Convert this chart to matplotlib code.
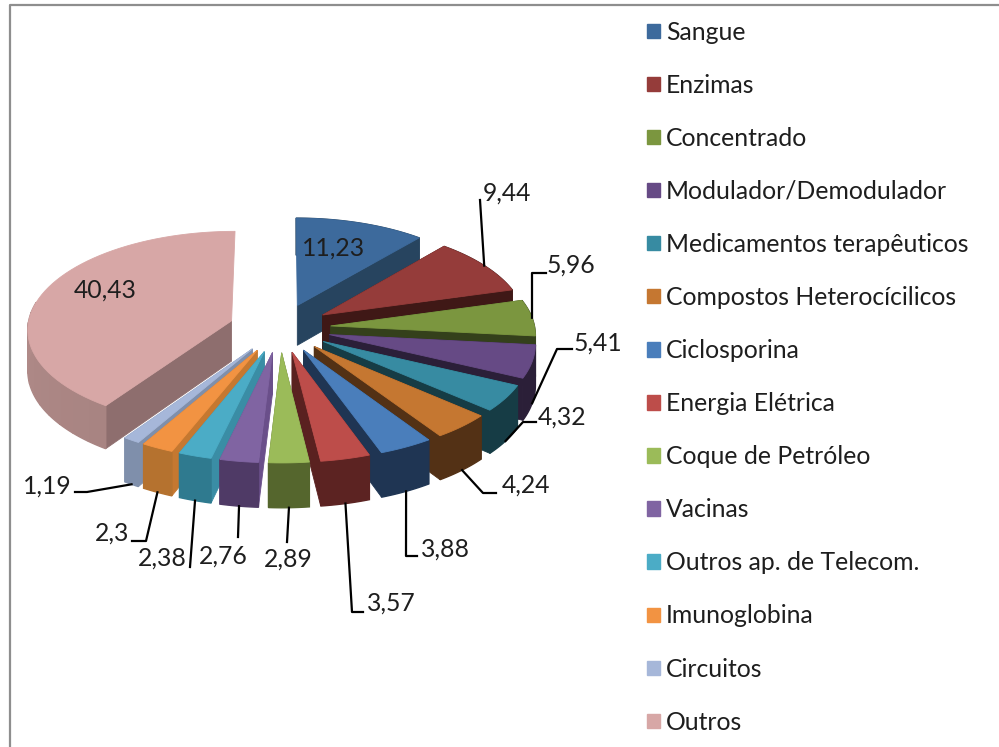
import numpy as np
import matplotlib
matplotlib.use("Agg")
import matplotlib.pyplot as plt
from matplotlib.patches import Polygon, Patch

categories = ["Sangue", "Enzimas", "Concentrado", "Modulador/Demodulador",
              "Medicamentos terapêuticos", "Compostos Heterocícilicos", "Ciclosporina",
              "Energia Elétrica", "Coque de Petróleo", "Vacinas", "Outros ap. de Telecom.",
              "Imunoglobina", "Circuitos", "Outros"]
values = [11.23, 9.44, 5.96, 5.41, 4.32, 4.24, 3.88, 3.57, 2.89, 2.76, 2.38, 2.3, 1.19, 40.43]

top_colors = ["#3D6A9C", "#953C3A", "#7B963F", "#664A85", "#378BA2", "#C57731", "#4A7EBB",
              "#BD4D4A", "#9BBB59", "#8064A2", "#4BACC6", "#F29342", "#A6B7D9", "#D7A7A6"]
radial_colors = ["#27445F", "#3F1816", "#34401B", "#2B1F38", "#163C45", "#533115", "#1F3553",
                 "#5A2120", "#55662D", "#6A4F8A", "#3A8DA5", "#C57830", "#7F8FAB", "#8E6E6E"]
outer_colors = ["#27445F", "#3F1816", "#34401B", "#2B1F38", "#163C45", "#533115", "#1F3553",
                "#5C2322", "#55662D", "#4F3A66", "#2F7A8F", "#B5722F", "#7F8FAB", "#BC9492"]
outer_end_colors = outer_colors[:-1] + ["#A88482"]

# Projection of the 3-D pie onto the picture (pixels)
CX, CY, RX, RY = 280, 328, 204, 97.5
PERSP, EXPLODE, DEPTH = 0.0775, 0.25, 40.5

# Label layout: text centre, then the elbow points of the leader (pixels)
inside_labels = {0: (333, 248), 13: (105, 290)}
label_pos = {1: (507, 193), 2: (571, 265), 3: (598, 343), 4: (562, 417), 5: (526, 485),
             6: (445, 549), 7: (391, 603), 8: (288, 559), 9: (223, 556), 10: (162, 558),
             11: (112, 533), 12: (47, 486)}
leader_path = {1: [(480, 200)], 2: [(532, 273), (546, 273)], 3: [(557, 349), (572, 349)],
               4: [(523, 422), (536, 422)], 5: [(483, 493), (496, 493)],
               6: [(406, 556), (417, 556)], 7: [(352, 612), (363, 612)], 8: [(287, 542)],
               9: [(238, 537)], 10: [(190, 567)], 11: [(146, 541), (132, 541)],
               12: [(87, 492), (75, 492)]}
anchor_on_top = {1, 2}

TEXT = "#1E1E1E"
FONT = "Lato"
LABEL_SIZE = 17.8


def project(theta, radius, mid):
    """Pie polar position (degrees clockwise from the back) to picture pixels."""
    t, m = np.radians(theta), np.radians(mid)
    X = radius * np.sin(t) + EXPLODE * np.sin(m)
    Y = radius * np.cos(t) + EXPLODE * np.cos(m)
    p = 1 / (1 + PERSP * Y)
    return CX + RX * X * p, CY - RY * Y * p, DEPTH * p


def mix(a, b, f):
    ca, cb = np.array(matplotlib.colors.to_rgb(a)), np.array(matplotlib.colors.to_rgb(b))
    return tuple(ca + (cb - ca) * f)


fig = plt.figure(figsize=(9.99, 7.47), dpi=100, facecolor="white")
ax = fig.add_axes([0, 0, 1, 1])
ax.set_xlim(0, 999)
ax.set_ylim(747, 0)
ax.axis("off")

total = sum(values)
edges = np.concatenate([[0], np.cumsum(values)]) / total * 360
mids = (edges[:-1] + edges[1:]) / 2
order = np.argsort(-np.cos(np.radians(mids)))


def face(pts, color, z, lw=0.6):
    ax.add_patch(Polygon(pts, closed=True, facecolor=color, edgecolor=color, lw=lw,
                         zorder=z, snap=False))


for rank, i in enumerate(order):
    a, b, m = edges[i], edges[i + 1], mids[i]
    z = 2 + rank * 0.01
    ax0, ay0, ad0 = project(0, 0, m)
    # radial walls (the one pointing straight back has no visible width)
    for th in (a, b):
        if abs(np.sin(np.radians(th))) < 1e-6:
            continue
        ox, oy, od = project(th, 1, m)
        face([(ax0, ay0), (ox, oy), (ox, oy + od), (ax0, ay0 + ad0)], radial_colors[i], z)
    # outer wall: one face, or broad strips when the slice carries a shade
    n_strips = 24 if outer_colors[i] != outer_end_colors[i] else 1
    ths = np.linspace(a, b, n_strips + 1)
    for k in range(n_strips):
        if n_strips > 1 and np.cos(np.radians((ths[k] + ths[k + 1]) / 2)) > 0.2:
            continue  # this part of the rim faces away and lies under the top face
        sub = np.linspace(ths[k], ths[k + 1], 30)
        up = [project(t, 1, m) for t in sub]
        pts = [(u[0], u[1]) for u in up] + [(u[0], u[1] + u[2]) for u in reversed(up)]
        shade = 1 - k / max(1, n_strips - 1)
        face(pts, mix(outer_colors[i], outer_end_colors[i], shade), z + 0.001 * k / n_strips, lw=1.0)
    # top face
    arc = [project(t, 1, m) for t in np.linspace(a, b, 60)]
    face([(ax0, ay0)] + [(u[0], u[1]) for u in arc], top_colors[i], z + 0.005)


def fmt(v):
    return f"{v:g}".replace(".", ",")


for i, (x, y) in inside_labels.items():
    ax.text(x, y, fmt(values[i]), ha="center", va="center", fontsize=LABEL_SIZE,
            family=FONT, color=TEXT, zorder=5)
for i, (x, y) in label_pos.items():
    ax.text(x, y, fmt(values[i]), ha="center", va="center", fontsize=LABEL_SIZE,
            family=FONT, color=TEXT, zorder=5)
    px, py, pd = project(mids[i], 1, mids[i])
    if i not in anchor_on_top:
        py += pd
    path = [(px, py)] + leader_path[i]
    ax.plot([q[0] for q in path], [q[1] for q in path], color="black", lw=1.6,
            solid_joinstyle="round", zorder=4)

# Chart frame (top and left only are inside the crop)
ax.plot([10, 10, 999], [747, 5, 5], color="#8E8E8E", lw=1.6, zorder=1, clip_on=False)

handles = [Patch(facecolor=c, edgecolor=c) for c in top_colors]
leg = ax.legend(handles, categories, loc="upper left", bbox_to_anchor=(0.6476, 0.9725),
                frameon=False, labelcolor=TEXT,
                prop={"family": FONT, "size": LABEL_SIZE},
                handlelength=0.52, handleheight=0.52, handletextpad=0.24,
                labelspacing=1.217, borderpad=0, borderaxespad=0)
leg.set_zorder(6)

fig.savefig("out.png", dpi=100, facecolor="white")
